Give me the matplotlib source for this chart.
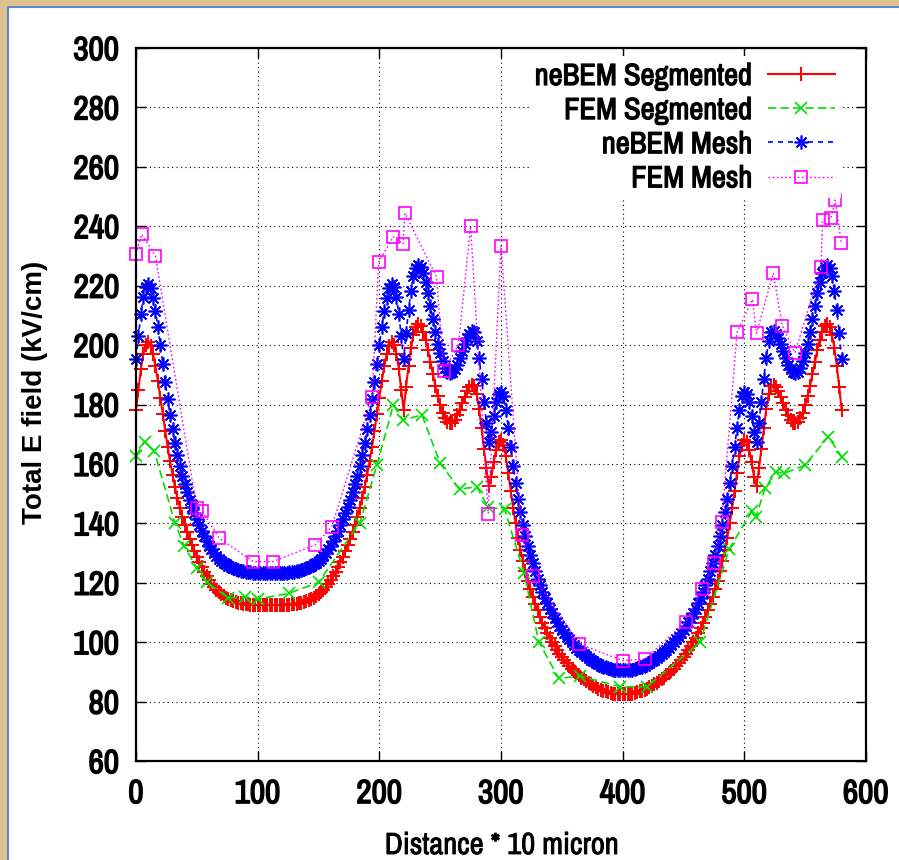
import matplotlib.pyplot as plt
import matplotlib.patheffects as pe
import numpy as np
from matplotlib.patches import Rectangle
from matplotlib.lines import Line2D

# sampling of the neBEM curves (every 2 units of 10 micron)
dist = np.arange(0, 581, 2)

nebem_seg = [
    178, 185, 192, 197, 200, 201,
    199.7, 196.9, 192.8, 187.8, 182.3, 176.7, 171.1, 165.8, 160.9, 156.4,
    152.3, 148.6, 145.3, 142.3, 139.6, 137.1, 134.8, 132.7, 130.7, 128.8,
    127.0, 125.3, 123.7, 122.2, 120.8, 119.6, 118.5, 117.6, 116.8, 116.1,
    115.5, 115.0, 114.5, 114.1, 113.8, 113.5, 113.3, 113.1, 112.9, 112.8,
    112.7, 112.6, 112.5, 112.5, 112.5, 112.5, 112.5, 112.5, 112.5,
    112.5,
    112.5, 112.5, 112.5, 112.5, 112.5, 112.5, 112.5, 112.6, 112.7,
    112.8, 112.9, 113.1, 113.3, 113.5, 113.8, 114.1, 114.5, 115.0, 115.5,
    116.1, 116.8, 117.6, 118.5, 119.6, 120.8, 122.2, 123.7, 125.3, 127.0,
    128.8, 130.7, 132.7, 134.8, 137.1, 139.6, 142.3, 145.3, 148.6, 152.3,
    156.4, 160.9, 165.8, 171.1, 176.7, 182.3, 187.8, 192.8, 196.9, 199.7,
    201,
    200, 197, 192, 185, 178,
    186, 193, 199, 203.5, 206, 207,
    206.3, 204.5, 201.8, 198.3, 194.3, 190.2, 186.3, 182.8, 179.8, 177.3,
    175.4, 174.2, 173.7, 173.9, 174.8, 176.3, 178.2, 180.4, 182.5, 184.4,
    185.8, 186.6, 186.2, 183.5, 178.5, 172, 165, 158.5, 152.5, 155.5,
    160.5, 164.8, 167.3, 168,
    166.5, 162.5, 157, 151, 145.3, 140, 135.2, 131, 127.2, 123.8,
    120.7, 117.9, 115.3, 112.9, 110.7, 108.6, 106.6, 104.8, 103.1, 101.5,
    100, 98.6, 97.3, 96.1, 95, 93.9, 92.9, 92, 91.1, 90.3,
    89.5, 88.8, 88.1, 87.5, 86.9, 86.3, 85.8, 85.3, 84.8, 84.4,
    84, 83.7, 83.4, 83.1, 82.9, 82.7, 82.6, 82.5, 82.5,
    82.5,
    82.5, 82.5, 82.6, 82.7, 82.9, 83.1, 83.4, 83.7, 84,
    84.4, 84.8, 85.3, 85.8, 86.3, 86.9, 87.5, 88.1, 88.8, 89.5,
    90.3, 91.1, 92, 92.9, 93.9, 95, 96.1, 97.3, 98.6, 100,
    101.5, 103.1, 104.8, 106.6, 108.6, 110.7, 112.9, 115.3, 117.9, 120.7,
    123.8, 127.2, 131, 135.2, 140, 145.3, 151, 157, 162.5, 166.5,
    168,
    167.3, 164.8, 160.5, 155.5, 152.5, 158.5, 165, 172, 178.5, 183.5,
    186.2, 186.6, 185.8, 184.4, 182.5, 180.4, 178.2, 176.3, 174.8, 173.9,
    173.7, 174.2, 175.4, 177.3, 179.8, 182.8, 186.3, 190.2, 194.3, 198.3,
    201.8, 204.5, 206.3, 207, 206, 203.5, 199, 193, 186, 178,
]

nebem_mesh = [
    195.3, 202.9, 210.6, 216.1, 219.4, 220.5,
    219.1, 216.0, 211.5, 206.0, 200.0, 193.8, 187.7, 181.9, 176.5, 171.6,
    167.1, 163.0, 159.4, 156.1, 153.1, 150.4, 147.9, 145.6, 143.4, 141.3,
    139.3, 137.5, 135.7, 134.1, 132.5, 131.2, 130.0, 129.0, 128.1, 127.4,
    126.7, 126.2, 125.6, 125.2, 124.8, 124.5, 124.3, 124.1, 123.9, 123.7,
    123.6, 123.5, 123.4, 123.4, 123.4, 123.4, 123.4, 123.4, 123.4,
    123.4,
    123.4, 123.4, 123.4, 123.4, 123.4, 123.4, 123.4, 123.5, 123.6,
    123.7, 123.9, 124.1, 124.3, 124.5, 124.8, 125.2, 125.6, 126.2, 126.7,
    127.4, 128.1, 129.0, 130.0, 131.2, 132.5, 134.1, 135.7, 137.5, 139.3,
    141.3, 143.4, 145.6, 147.9, 150.4, 153.1, 156.1, 159.4, 163.0, 167.1,
    171.6, 176.5, 181.9, 187.7, 193.8, 200.0, 206.0, 211.5, 216.0, 219.1,
    220.5,
    219.4, 216.1, 210.6, 202.9, 195.3,
    204.0, 211.7, 218.3, 223.2, 226.0, 227.1,
    226.3, 224.3, 221.4, 217.5, 213.1, 208.7, 204.4, 200.5, 197.2, 194.5,
    192.4, 191.1, 190.5, 190.8, 191.8, 193.4, 195.5, 197.9, 200.2, 202.3,
    203.8, 204.7, 204.3, 201.3, 195.8, 188.7, 181.0, 173.9, 167.3, 170.6,
    176.1, 180.8, 183.5, 184.3,
    182.7, 178.3, 172.2, 165.6, 159.4, 153.6, 148.3, 143.7, 139.5, 135.8,
    132.4, 129.3, 126.5, 123.9, 121.4, 119.1, 116.9, 115.0, 113.1, 111.3,
    109.7, 108.2, 106.7, 105.4, 104.2, 103.0, 101.9, 100.9, 99.9, 99.1,
    98.2, 97.4, 96.6, 96.0, 95.3, 94.7, 94.1, 93.6, 93.0, 92.6,
    92.1, 91.8, 91.5, 91.2, 90.9, 90.7, 90.6, 90.5, 90.5,
    90.5,
    90.5, 90.5, 90.6, 90.7, 90.9, 91.2, 91.5, 91.8, 92.1,
    92.6, 93.0, 93.6, 94.1, 94.7, 95.3, 96.0, 96.6, 97.4, 98.2,
    99.1, 99.9, 100.9, 101.9, 103.0, 104.2, 105.4, 106.7, 108.2, 109.7,
    111.3, 113.1, 115.0, 116.9, 119.1, 121.4, 123.9, 126.5, 129.3, 132.4,
    135.8, 139.5, 143.7, 148.3, 153.6, 159.4, 165.6, 172.2, 178.3, 182.7,
    184.3,
    183.5, 180.8, 176.1, 170.6, 167.3, 173.9, 181.0, 188.7, 195.8, 201.3,
    204.3, 204.7, 203.8, 202.3, 200.2, 197.9, 195.5, 193.4, 191.8, 190.8,
    190.5, 191.1, 192.4, 194.5, 197.2, 200.5, 204.4, 208.7, 213.1, 217.5,
    221.4, 224.3, 226.3, 227.1, 226.0, 223.2, 218.3, 211.7, 204.0, 195.3,
]

fem_seg_x = [0, 7, 15, 32, 39.5, 50, 58.5, 76, 89.5, 100.5, 126, 150, 184, 198,
             211.5, 219.5, 235, 250, 266, 280, 289.5, 303, 319, 331, 347.5, 365,
             398, 420, 463.5, 487.5, 506, 509.5, 517, 526, 532.5, 550, 569, 580]
fem_seg_y = [162.7, 167.5, 164.3, 140.2, 132.4, 124.9, 120.1, 114.8, 115.3, 114.5,
             116.5, 120.1, 140.2, 159.6, 179.8, 174.8, 176.5, 160.2, 151.5, 152.3,
             145.5, 144.7, 123.2, 100.2, 87.8, 88.6, 85, 85, 99.9, 131.3,
             144, 142, 151.8, 157.4, 156.8, 159.6, 169.2, 162.4]

fem_mesh_x = [0, 4.7, 16, 50, 54, 68.5, 96.5, 112.5, 147, 161, 194, 199.5, 211.5,
              219.5, 221, 247, 253, 265, 275, 289.5, 300, 317, 326.5, 364.3, 400,
              418.4, 451.8, 465.4, 475, 481.4, 494, 506.7, 510, 523.8, 531.2, 541.6,
              563, 564.3, 571.2, 574.8, 579.7]
fem_mesh_y = [230.7, 237.3, 230, 145, 144.2, 135, 127.1, 127.1, 132.7, 138.9, 182.5,
              228, 236.5, 234, 244.4, 223, 191.4, 200, 240, 143.2, 233.5, 136, 122.3,
              99.4, 93.8, 94.3, 106.9, 117.8, 126.6, 140.6, 204.3, 215.4, 204, 224.2,
              206.5, 197.4, 226.2, 242.1, 242.7, 248.8, 234.3]

x_ticks = [0, 100, 200, 300, 400, 500, 600]
y_ticks = [60, 80, 100, 120, 140, 160, 180, 200, 220, 240, 260, 280, 300]

narrow = ['Archivo Narrow', 'Roboto Condensed', 'DejaVu Sans']
wide = ['Liberation Sans', 'DejaVu Sans']
heavy = [pe.withStroke(linewidth=1.1, foreground='black')]

fig = plt.figure(figsize=(8.99, 8.60), dpi=100, facecolor='white')

# parchment frame on the top and left edges
tan = '#e0c290'
fig.add_artist(Rectangle((0, 1 - 6 / 860), 1, 6 / 860, transform=fig.transFigure,
                         facecolor=tan, edgecolor='none'))
fig.add_artist(Rectangle((0, 0), 7 / 899, 1, transform=fig.transFigure,
                         facecolor=tan, edgecolor='none'))
fig.add_artist(Line2D([7.5 / 899, 7.5 / 899, 1], [0, 1 - 6.5 / 860, 1 - 6.5 / 860],
                      transform=fig.transFigure, color='#5b88c8', lw=1.5))

ax = fig.add_axes([136 / 899, 1 - 761 / 860, 730 / 899, 713 / 860])

l1, = ax.plot(dist, nebem_seg, color='#ff0000', lw=1.5, marker='+', ms=10, mew=1.4,
              clip_on=False, label='neBEM Segmented')
l2, = ax.plot(fem_seg_x, fem_seg_y, color='#00e000', lw=1.2, ls=(0, (5, 2.5)),
              marker='x', ms=8, mew=1.2, clip_on=False, label='FEM Segmented')
l3, = ax.plot(dist, nebem_mesh, color='#0000ff', lw=1.2, ls=(0, (3, 3)),
              marker=(8, 2, 0), ms=10, mew=1.2, clip_on=False, label='neBEM Mesh')
l4, = ax.plot(fem_mesh_x, fem_mesh_y, color='#ff00ff', lw=1.0, ls=(0, (1.2, 1.8)),
              marker='s', ms=8, mew=1.2, mfc='none', clip_on=False, label='FEM Mesh')

ax.set_xlim(0, 600)
ax.set_ylim(60, 300)
ax.set_xticks(x_ticks)
ax.set_yticks(y_ticks)
ax.set_xticklabels([str(t) for t in x_ticks], family=narrow, fontsize=24, path_effects=heavy)
ax.set_yticklabels([str(t) for t in y_ticks], family=narrow, fontsize=24, path_effects=heavy)
ax.tick_params(direction='in', length=7, width=1, top=True, right=True)
ax.tick_params(axis='x', pad=13)
ax.tick_params(axis='y', pad=12)
for s in ax.spines.values():
    s.set_linewidth(1.6)
ax.set_axisbelow(True)
ax.grid(True, color='black', ls=(0, (1, 3)), lw=0.8)

leg = ax.legend(handles=[l1, l2, l3, l4], loc='upper right', bbox_to_anchor=(0.966, 0.989),
                markerfirst=False, numpoints=1, handlelength=2.2, handletextpad=0.5,
                labelspacing=0.2, borderpad=0.2, borderaxespad=0,
                prop={'family': narrow, 'size': 22},
                frameon=True, fancybox=False, framealpha=1)
leg.get_frame().set_edgecolor('none')
leg.get_frame().set_facecolor('white')
for t in leg.get_texts():
    t.set_path_effects([pe.withStroke(linewidth=0.9, foreground='black')])

fig.text(35 / 899, 1 - 392 / 860, 'Total E field (kV/cm)', rotation=90, ha='center',
         va='center', family=wide, fontweight='bold', fontsize=20)
fig.text(502 / 899, 1 - 845 / 860, 'Distance * 10 micron', ha='center', va='center',
         family=narrow, fontsize=22, path_effects=[pe.withStroke(linewidth=0.6, foreground='black')])

fig.savefig('out.png', dpi=100, facecolor='white')
